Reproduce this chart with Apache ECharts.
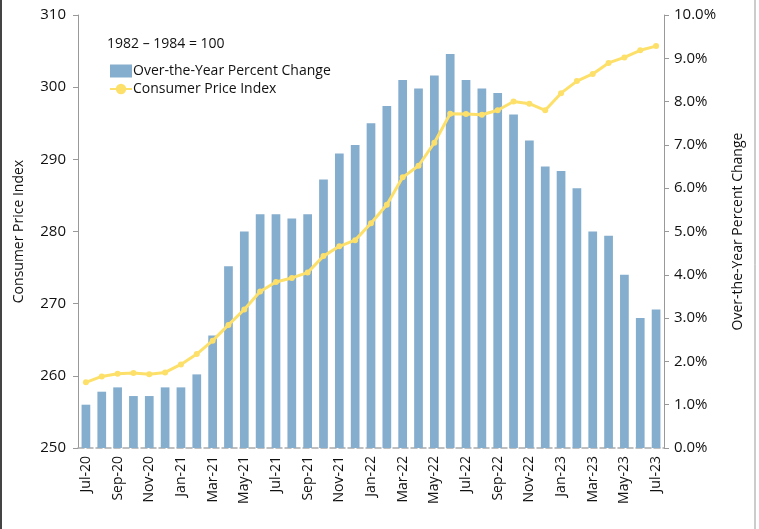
<!DOCTYPE html>
<html>
<head>
<meta charset="utf-8">
<script src="https://cdn.jsdelivr.net/npm/echarts@6/dist/echarts.min.js"></script>
<style>
  html, body { margin: 0; padding: 0; background: #fff; }
  #chart { width: 759px; height: 529px; }
</style>
</head>
<body>
<div id="chart"></div>
<script>
const months = ['Jul-20', 'Aug-20', 'Sep-20', 'Oct-20', 'Nov-20', 'Dec-20', 'Jan-21', 'Feb-21', 'Mar-21',
  'Apr-21', 'May-21', 'Jun-21', 'Jul-21', 'Aug-21', 'Sep-21', 'Oct-21', 'Nov-21', 'Dec-21', 'Jan-22',
  'Feb-22', 'Mar-22', 'Apr-22', 'May-22', 'Jun-22', 'Jul-22', 'Aug-22', 'Sep-22', 'Oct-22', 'Nov-22',
  'Dec-22', 'Jan-23', 'Feb-23', 'Mar-23', 'Apr-23', 'May-23', 'Jun-23', 'Jul-23']

const pctChange = [1.0, 1.3, 1.4, 1.2, 1.2, 1.4, 1.4, 1.7, 2.6, 4.2, 5.0, 5.4, 5.4, 5.3, 5.4, 6.2, 6.8,
  7.0, 7.5, 7.9, 8.5, 8.3, 8.6, 9.1, 8.5, 8.3, 8.2, 7.7, 7.1, 6.5, 6.4, 6.0, 5.0, 4.9, 4.0, 3.0, 3.2]

const cpi = [259.101, 259.918, 260.280, 260.388, 260.229, 260.474, 261.582, 263.014, 264.877, 267.054,
  269.195, 271.696, 273.003, 273.567, 274.310, 276.589, 277.948, 278.802, 281.148, 283.716, 287.504,
  289.109, 292.296, 296.311, 296.276, 296.171, 296.808, 298.012, 297.711, 296.797, 299.170, 300.840,
  301.836, 303.363, 304.127, 305.109, 305.691]

const font = 'Open Sans'
const chart = echarts.init(document.getElementById('chart'))

chart.setOption({
  backgroundColor: '#fff',
  animation: false,
  textStyle: { fontFamily: font },
  grid: { left: 78, right: 95, top: 15, bottom: 81 },
  graphic: [
    { type: 'line', shape: { x1: 1, y1: 0, x2: 1, y2: 529 }, style: { stroke: '#444', lineWidth: 2 } },
    { type: 'line', shape: { x1: 755, y1: 0, x2: 755, y2: 529 }, style: { stroke: '#999', lineWidth: 1 } },
    {
      type: 'text', left: 107, top: 37,
      style: { text: '1982 – 1984 = 100', fontFamily: font, fontSize: 14, fill: '#111' }
    }
  ],
  legend: {
    left: 104, top: 59, orient: 'vertical', itemGap: 4, itemWidth: 22, itemHeight: 13,
    textStyle: { fontFamily: font, fontSize: 14, color: '#111', padding: [0, 0, 0, -4] },
    data: [
      { name: 'Over-the-Year Percent Change', icon: 'rect' },
      { name: 'Consumer Price Index' }
    ]
  },
  xAxis: {
    type: 'category',
    data: months,
    axisLine: { lineStyle: { color: '#aaa', type: 'dashed', width: 1.5 } },
    axisTick: { interval: 1, length: 5, lineStyle: { color: '#888' } },
    axisLabel: { interval: 1, rotate: 90, fontSize: 14, color: '#111', margin: 8 }
  },
  yAxis: [
    {
      type: 'value', min: 250, max: 310, interval: 10,
      name: 'Consumer Price Index', nameLocation: 'middle', nameGap: 52,
      nameTextStyle: { fontSize: 14, color: '#111' },
      axisLine: { show: true, lineStyle: { color: '#999' } },
      axisTick: { show: true, length: 5, lineStyle: { color: '#999' } },
      axisLabel: { fontSize: 15, color: '#111', margin: 12 },
      splitLine: { show: false }
    },
    {
      type: 'value', min: 0, max: 10, interval: 1,
      name: 'Over-the-Year Percent Change', nameLocation: 'middle', nameGap: 67, nameRotate: 90,
      nameTextStyle: { fontSize: 14, color: '#111' },
      axisLine: { show: true, lineStyle: { color: '#999' } },
      axisTick: { show: true, length: 5, lineStyle: { color: '#999' } },
      axisLabel: { fontSize: 15, color: '#111', margin: 10, formatter: v => v.toFixed(1) + '%' },
      splitLine: { show: false }
    }
  ],
  series: [
    {
      name: 'Over-the-Year Percent Change',
      type: 'bar',
      yAxisIndex: 1,
      barCategoryGap: '45%',
      itemStyle: { color: '#85adcd' },
      data: pctChange
    },
    {
      name: 'Consumer Price Index',
      type: 'line',
      yAxisIndex: 0,
      symbol: 'circle',
      symbolSize: 6,
      lineStyle: { color: '#fde06a', width: 3 },
      itemStyle: { color: '#fde06a' },
      data: cpi
    }
  ]
})
</script>
</body>
</html>
